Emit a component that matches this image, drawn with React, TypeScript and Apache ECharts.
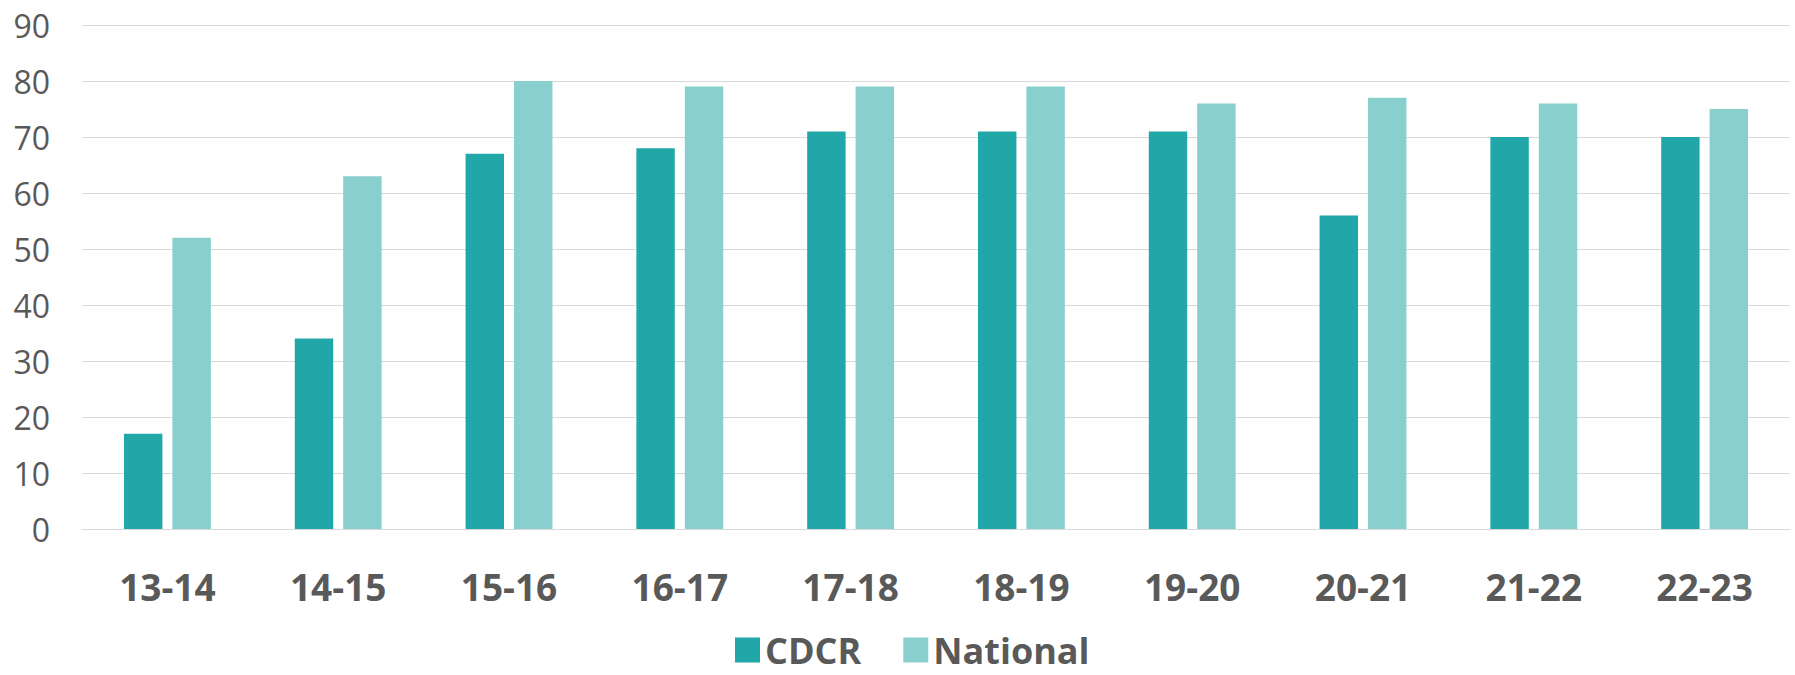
import React, { useEffect, useRef } from "react";
import * as echarts from "echarts";

const years = ["13-14", "14-15", "15-16", "16-17", "17-18", "18-19", "19-20", "20-21", "21-22", "22-23"];
const cdcr = [17, 34, 67, 68, 71, 71, 71, 56, 70, 70];
const national = [52, 63, 80, 79, 79, 79, 76, 77, 76, 75];
const yTicks = { min: 0, max: 90, interval: 10 };

const FONT = "'Open Sans', 'Noto Sans', sans-serif";
const TEXT = "#595959";

export default function App() {
  const ref = useRef<HTMLDivElement>(null);

  useEffect(() => {
    if (!ref.current) return;
    const chart = echarts.init(ref.current, undefined, { renderer: "svg" });
    chart.setOption({
      animation: false,
      backgroundColor: "#ffffff",
      textStyle: { fontFamily: FONT },
      grid: { left: 82, right: 5, top: 25, bottom: 146, containLabel: false },
      legend: {
        left: 735,
        top: 632,
        padding: 0,
        itemWidth: 25,
        itemHeight: 25,
        itemGap: 42,
        icon: "rect",
        textStyle: { fontSize: 36, lineHeight: 36, fontWeight: "bold", color: TEXT, fontFamily: FONT },
        data: ["CDCR", "National"],
      },
      xAxis: {
        type: "category",
        data: years,
        axisTick: { show: false },
        axisLine: { show: true, lineStyle: { color: "#D9D9D9", width: 1 } },
        axisLabel: { fontSize: 37, fontWeight: "bold", color: TEXT, margin: 39, fontFamily: FONT },
      },
      yAxis: {
        type: "value",
        min: yTicks.min,
        max: yTicks.max,
        interval: yTicks.interval,
        axisLine: { show: false },
        axisTick: { show: false },
        splitLine: { lineStyle: { color: "#D9D9D9", width: 1 } },
        axisLabel: { fontSize: 32, color: TEXT, margin: 32, fontFamily: FONT },
      },
      series: [
        {
          name: "CDCR",
          type: "bar",
          data: cdcr,
          barWidth: "22.5%",
          barGap: "26%",
          itemStyle: { color: "#21A7A7" },
        },
        {
          name: "National",
          type: "bar",
          data: national,
          barWidth: "22.5%",
          barGap: "26%",
          itemStyle: { color: "#88CFCE" },
        },
      ],
    });
    return () => chart.dispose();
  }, []);

  return (
    <div
      ref={ref}
      style={{ position: "fixed", left: 0, top: 0, width: 1795, height: 675 }}
    />
  );
}
